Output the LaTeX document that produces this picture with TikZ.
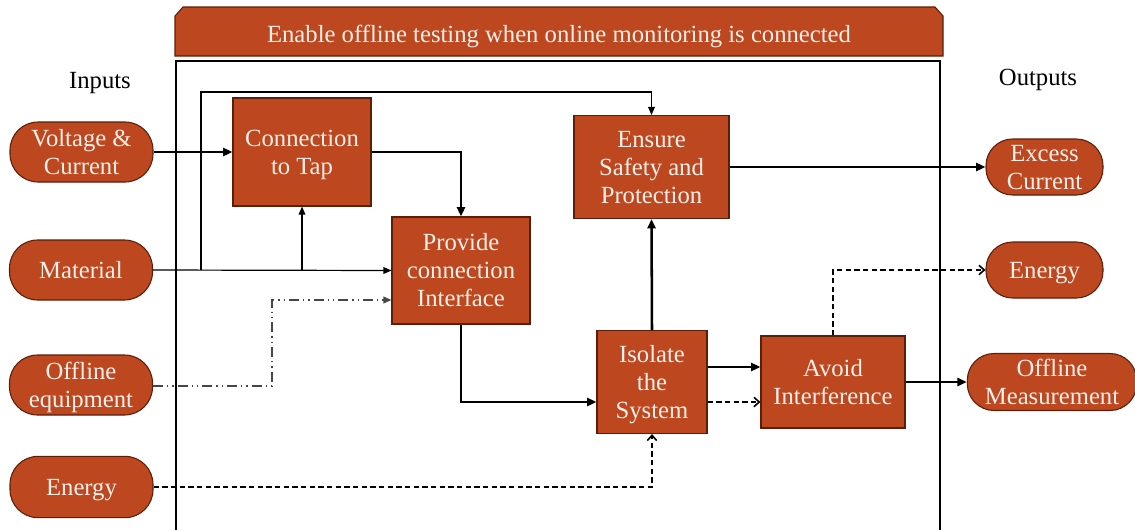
\documentclass[tikz,border=0pt]{standalone}
\usepackage{fontspec}
\setmainfont{Liberation Serif}
\usetikzlibrary{arrows.meta}
\definecolor{rust}{RGB}{189,71,30}
\definecolor{rustedge}{RGB}{90,30,10}
\definecolor{boxtext}{RGB}{250,240,235}
\definecolor{dashgray}{RGB}{70,70,70}
\newcommand\ps{\rule[-0.216em]{0pt}{1.107em}}
\tikzset{
  base/.style={fill=rust, draw=rustedge, line width=0.8pt, text=boxtext, align=center, inner sep=0pt,
    font=\fontsize{18.5}{21}\selectfont, execute at begin node=\ps, execute at end node=\ps},
  blockbox/.style={base, rectangle},
  pill/.style={base, rectangle, rounded corners=21pt},
  thickflow/.style={line width=1.9pt, -{Triangle[length=7pt,width=6pt]}},
  thinflow/.style={line width=0.9pt, -{Triangle[length=6pt,width=5pt]}},
  dashflow/.style={line width=1.2pt, dash pattern=on 4pt off 2.5pt, -{Straight Barb[length=4pt,width=7pt]}},
  dotdashflow/.style={line width=1.2pt, draw=dashgray, dash pattern=on 7.5pt off 3pt on 1pt off 3pt on 1pt off 3pt,
    -{Triangle[length=6pt,width=5pt]}},
  lbl/.style={font=\fontsize{18.5}{21}\selectfont, inner sep=0pt, execute at begin node=\ps}
}
\begin{document}
\begin{tikzpicture}[x=0.75pt,y=-0.75pt]
\useasboundingbox (0,0) rectangle (1135,529);
% title banner
\fill[rust, draw=rustedge, line width=0.8pt] (175,56) -- (175,16) -- (183,7) -- (935,7) -- (943,16) -- (943,56) -- cycle;
\node[lbl, text=boxtext] (titletext) at (559,34) {Enable offline testing when online monitoring is connected};
% frame
\draw[line width=2pt] (176,532) -- (176,61) -- (940,61) -- (940,532);
% labels
\node[lbl] (inputs) at (100,80) {Inputs};
\node[lbl] (outputs) at (1038,77) {Outputs};
% inputs
\node[pill, minimum width=107.25pt, minimum height=45pt] (vc) at (81.5,152) {\ps Voltage \&\\Current};
\node[pill, minimum width=107.25pt, minimum height=45pt] (mat) at (81,270) {Material};
\node[pill, minimum width=107.25pt, minimum height=45pt] (off) at (81,385) {\ps Offline\\equipment};
\node[pill, minimum width=107.25pt, minimum height=46pt] (en) at (81.5,487) {Energy};
% outputs
\node[pill, rounded corners=20pt, minimum width=87.75pt, minimum height=42pt] (exc) at (1044.5,167) {\ps Excess\\Current};
\node[pill, rounded corners=20pt, minimum width=87.75pt, minimum height=42pt] (oen) at (1044.5,270) {Energy};
\node[pill, rounded corners=20pt, minimum width=127pt, minimum height=42.75pt] (ome) at (1052,382) {\ps Offline\\Measurement};
% blocks
\node[blockbox, minimum width=103.5pt, minimum height=81pt] (tap) at (302,152) {\ps Connection\\to Tap};
\node[blockbox, minimum width=103.5pt, minimum height=80.25pt] (prov) at (461,270.5) {\ps Provide\\connection\\Interface};
\node[blockbox, minimum width=116.25pt, minimum height=77.25pt] (ens) at (651.5,167) {\ps Ensure\\Safety and\\Protection};
\node[blockbox, minimum width=82.5pt, minimum height=77.25pt] (iso) at (652,382) {\ps Isolate\\the\\System};
\node[blockbox, minimum width=108pt, minimum height=69pt] (av) at (833,382) {\ps Avoid\\Interference};
% junction coordinates
\coordinate (j1) at (302,270);
\coordinate (j2) at (201,270);
\coordinate (j3) at (201,92);
\coordinate (o1) at (272,386);
\coordinate (o2) at (272,300);
\coordinate (p1) at (461,402);
% connectors
\draw[thickflow] (vc.east) -- (tap.west);
\draw[thickflow] (tap.east) -| (prov.north);
\draw[thinflow] (mat.east) -- (prov.west);
\draw[thinflow] (j1) -- (tap.south);
\draw[thinflow] (j2) -- (j3) -| (ens.north);
\draw[dotdashflow] (off.east |- o1) -- (o1) -- (o2) -- (o2 -| prov.west);
\draw[dashflow] (en.east) -| (iso.south);
\draw[thickflow] (prov.south) -- (p1) -- (p1 -| iso.west);
\draw[thickflow] (iso.north) -- (ens.south);
\draw[thickflow] ([yshift=11.25pt]iso.east) -- ([yshift=11.25pt]av.west);
\draw[dashflow] ([yshift=-15pt]iso.east) -- ([yshift=-15pt]av.west);
\draw[dashflow] (av.north) |- (oen.west);
\draw[thickflow] (av.east) -- (ome.west);
\draw[thickflow] (ens.east) -- (exc.west);
\end{tikzpicture}
\end{document}
